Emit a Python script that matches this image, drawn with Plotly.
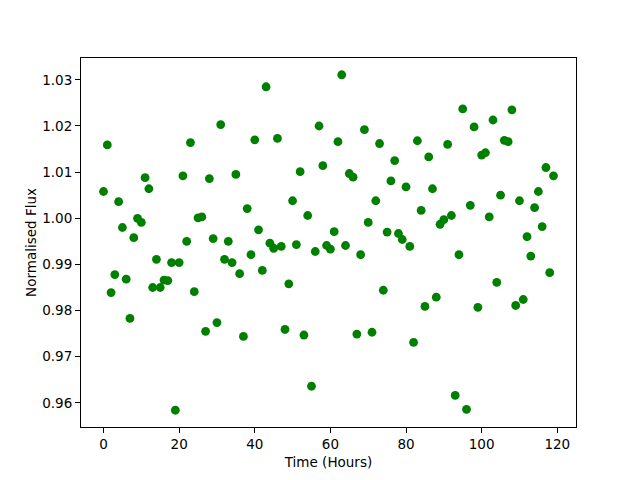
import plotly.graph_objects as go

time_hours = list(range(120))
flux = [
    1.0058, 1.0159, 0.9839, 0.9878, 1.0036, 0.9980, 0.9868, 0.9783, 0.9958, 1.0000,
    0.9991, 1.0088, 1.0064, 0.9850, 0.9911, 0.9850, 0.9866, 0.9865, 0.9904, 0.9584,
    0.9904, 1.0092, 0.9950, 1.0164, 0.9841, 1.0001, 1.0003, 0.9755, 1.0086, 0.9956,
    0.9774, 1.0203, 0.9911, 0.9950, 0.9904, 1.0095, 0.9880, 0.9744, 1.0021, 0.9921,
    1.0170, 0.9975, 0.9887, 1.0285, 0.9946, 0.9935, 1.0173, 0.9939, 0.9759, 0.9858,
    1.0038, 0.9943, 1.0101, 0.9747, 1.0006, 0.9636, 0.9928, 1.0200, 1.0114, 0.9941,
    0.9933, 0.9971, 1.0166, 1.0311, 0.9941, 1.0097, 1.0089, 0.9749, 0.9921, 1.0192,
    0.9991, 0.9753, 1.0038, 1.0162, 0.9844, 0.9970, 1.0081, 1.0125, 0.9967, 0.9954,
    1.0068, 0.9939, 0.9731, 1.0168, 1.0017, 0.9809, 1.0133, 1.0064, 0.9829, 0.9987,
    0.9997, 1.0160, 1.0006, 0.9616, 0.9921, 1.0237, 0.9586, 1.0028, 1.0198, 0.9807,
    1.0137, 1.0142, 1.0003, 1.0213, 0.9861, 1.0050, 1.0169, 1.0166, 1.0235, 0.9811,
    1.0038, 0.9824, 0.9960, 0.9918, 1.0023, 1.0058, 0.9982, 1.0110, 0.9882, 1.0092,
]

x_ticks = [0, 20, 40, 60, 80, 100, 120]
y_ticks = [0.96, 0.97, 0.98, 0.99, 1.00, 1.01, 1.02, 1.03]

fig = go.Figure()
fig.add_trace(go.Scatter(
    x=time_hours, y=flux, mode="markers",
    marker=dict(color="#008000", size=8.8, line=dict(width=0)),
    showlegend=False,
))

xmin, xmax = min(time_hours), max(time_hours)
ymin, ymax = min(flux), max(flux)
xpad = (xmax - xmin) * 0.05
ypad = (ymax - ymin) * 0.05

axis_common = dict(
    showline=True, linecolor="black", linewidth=1.1, mirror=True,
    ticks="outside", ticklen=5, tickwidth=1.1, tickcolor="black",
    showgrid=False, zeroline=False, automargin=False,
    tickfont=dict(family="DejaVu Sans", size=13.5, color="black"),
)

fig.update_layout(
    width=640, height=480, autosize=False,
    paper_bgcolor="white", plot_bgcolor="white",
    margin=dict(l=73, r=72, t=50, b=61),
    font=dict(family="DejaVu Sans", size=13.5, color="black"),
    xaxis=dict(
        range=[xmin - xpad, xmax + xpad],
        tickvals=x_ticks, ticktext=[str(v) for v in x_ticks],
        title=dict(text="Time (Hours)", standoff=6,
                   font=dict(family="DejaVu Sans", size=13.5, color="black")),
        **axis_common,
    ),
    yaxis=dict(
        range=[ymin - ypad, ymax + ypad],
        tickvals=y_ticks, ticktext=[f"{v:.2f}" for v in y_ticks],
        title=dict(text="Normalised Flux", standoff=2,
                   font=dict(family="DejaVu Sans", size=13.5, color="black")),
        **axis_common,
    ),
)

fig.write_html("out.html")
